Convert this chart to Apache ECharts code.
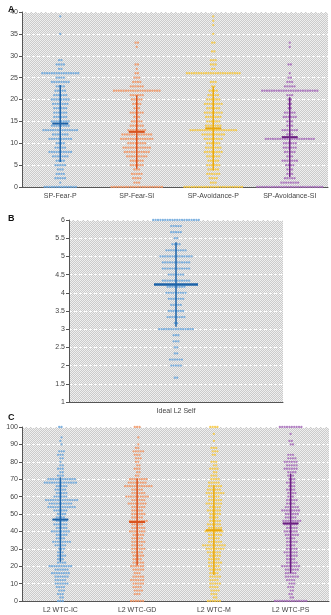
<!DOCTYPE html>
<html>
<head>
<meta charset="utf-8">
<script src="https://cdn.jsdelivr.net/npm/echarts@6/dist/echarts.min.js"></script>
<style>
  html, body { margin: 0; padding: 0; background: #fff; }
  #main { width: 331px; height: 615px; }
</style>
</head>
<body>
<div id="main"></div>
<script>
// ---- data ----
// Panel A: counts of respondents at each integer score 0..40
var aCategories = ['SP-Fear-P', 'SP-Fear-SI', 'SP-Avoidance-P', 'SP-Avoidance-SI'];
var aLevels = [];
for (var i = 0; i <= 40; i++) aLevels.push(i);
var fearPCounts   = [14,1,5,4,3,5,4,7,10,5,4,10,7,15,8,8,6,6,6,7,8,6,5,4,8,4,16,2,4,2,0,0,0,0,0,1,0,0,0,1,0];
var fearSICounts  = [22,3,4,5,3,6,6,9,11,12,8,14,13,8,6,5,3,6,3,4,5,6,20,6,4,3,2,1,2,0,0,0,1,2,0,0,0,0,0,0,0];
var avoidPCounts  = [25,3,4,6,5,6,5,6,8,7,6,8,10,20,7,6,7,8,6,8,6,5,4,2,3,0,23,2,3,3,0,2,0,2,0,1,0,1,1,1,0];
var avoidSICounts = [28,8,5,3,3,4,7,3,5,6,6,21,3,7,3,3,6,5,2,2,2,3,24,5,3,2,1,0,2,0,0,0,1,1,0,0,0,0,0,0,0];
var aMeans = [14.5, 12.6, 13.4, 11.4];
var aSds   = [8.8, 8.4, 9.6, 9.1];
var aTicks = { min: 0, max: 40, interval: 5 };

// Panel B: mean item scores in steps of 1/6 from 1 to 6
var bCategories = ['Ideal L2 Self'];
var bLevels = [];
for (var k = 0; k <= 30; k++) bLevels.push(1 + k / 6);
var idealCounts = [0,0,0,0,2,0,5,6,2,2,3,3,15,2,8,7,5,7,9,8,12,7,12,12,14,9,4,2,5,5,20];
var bMeans = [4.23];
var bSds   = [1.16];
var bTicks = { min: 1, max: 6, interval: 0.5 };

// Panel C: percentage scores, binned every 2 points 0..100
var cCategories = ['L2 WTC-IC', 'L2 WTC-GD', 'L2 WTC-M', 'L2 WTC-PS'];
var cLevels = [];
for (var p = 0; p <= 100; p += 2) cLevels.push(p);
var wtcICCounts = [3,2,3,3,4,6,5,6,8,6,10,4,3,4,3,3,5,8,4,5,8,5,6,5,4,4,6,12,10,14,6,5,5,5,14,12,3,2,3,2,1,2,3,3,0,1,1,1,0,0,2];
var wtcGDCounts = [6,0,3,4,4,5,6,5,3,5,6,5,4,5,5,6,5,6,5,5,7,6,5,8,5,6,5,6,8,6,10,6,5,12,8,8,2,2,3,2,2,3,3,5,2,1,0,1,0,0,3];
var wtcMCounts  = [6,2,3,4,4,5,4,5,4,5,5,6,5,5,6,8,10,6,5,6,8,6,6,5,4,5,6,5,7,6,5,8,6,6,5,4,3,2,4,2,3,0,2,3,3,0,1,0,1,0,4];
var wtcPSCounts = [14,2,2,2,3,3,4,6,5,6,8,5,4,5,6,5,4,5,4,6,6,5,6,8,5,6,8,6,4,5,3,4,4,3,4,3,3,4,6,5,6,4,3,0,0,2,2,0,1,0,10];
var cMeans = [46.8, 45.4, 40.7, 44.6];
var cSds   = [24.3, 25.0, 25.8, 28.6];
var cTicks = { min: 0, max: 100, interval: 10 };

// ---- styles ----
var dotColors  = ['#6aa6dc', '#f29563', '#f7c83f', '#a66bba'];
var lineColors = ['#1d63a9', '#d9531e', '#eba70a', '#6c1f82'];
var fontFam = 'Liberation Sans, Arial, sans-serif';
var pitchPx = 2.4;

// layout of the three panels (px)
var grids = [
    { left: 22, top: 12, width: 306, height: 175 },
    { left: 69, top: 220, width: 214, height: 182 },
    { left: 22, top: 427, width: 307, height: 174 }
];

// checkered gray backdrop
var pat = document.createElement('canvas');
pat.width = 2; pat.height = 2;
var pctx = pat.getContext('2d');
pctx.fillStyle = '#cbcbcb';
pctx.fillRect(0, 0, 2, 2);
pctx.fillStyle = '#efefef';
pctx.fillRect(0, 0, 1, 1);
pctx.fillRect(1, 1, 1, 1);

// lay the dots of each score level side by side around the group centre
function dotsFor(levels, counts, center, step, stagger) {
    var out = [];
    for (var i = 0; i < levels.length; i++) {
        var n = counts[i];
        var shift = (stagger && i % 2) ? step / 2 : 0;
        for (var j = 0; j < n; j++) {
            out.push([center + shift + (j - (n - 1) / 2) * step, levels[i]]);
        }
    }
    return out;
}

function meanSdRenderer(halfPx, barW, tickW) {
    return function (params, api) {
        var x = api.value(0), m = api.value(1), s = api.value(2);
        var top = api.coord([x, m + s]);
        var bot = api.coord([x, m - s]);
        var mid = api.coord([x, m]);
        var color = api.visual('color');
        return {
            type: 'group',
            children: [
                { type: 'line', shape: { x1: top[0], y1: top[1], x2: bot[0], y2: bot[1] },
                  style: { stroke: color, lineWidth: tickW } },
                { type: 'line', shape: { x1: mid[0] - halfPx, y1: mid[1], x2: mid[0] + halfPx, y2: mid[1] },
                  style: { stroke: color, lineWidth: barW } }
            ]
        };
    };
}

var xAxes = [], yAxes = [], series = [];

function addPanel(gi, cats, ticks, levels, countSets, means, sds, halfPx, barW, stagger) {
    var nCat = cats.length;
    var step = pitchPx * nCat / grids[gi].width;
    xAxes.push({
        gridIndex: gi, type: 'category', data: cats, position: 'bottom',
        axisLine: { lineStyle: { color: '#555', width: 1 } },
        axisTick: { alignWithLabel: true, length: 3, lineStyle: { color: '#555' } },
        axisLabel: { fontSize: 7, color: '#444', fontFamily: fontFam, margin: 6 },
        splitLine: { show: false }
    });
    var valueX = xAxes.length;
    xAxes.push({ gridIndex: gi, type: 'value', min: 0, max: nCat, show: false });
    yAxes.push({
        gridIndex: gi, type: 'value', min: ticks.min, max: ticks.max, interval: ticks.interval,
        axisLine: { show: true, lineStyle: { color: '#555', width: 1 } },
        axisTick: { show: true, length: 3, lineStyle: { color: '#555' } },
        axisLabel: { fontSize: 7, color: '#444', fontFamily: fontFam, margin: 4 },
        splitLine: { show: true, lineStyle: { color: '#ffffff', width: 1, type: [3, 2] } }
    });
    var yi = yAxes.length - 1;
    for (var c = 0; c < nCat; c++) {
        series.push({
            type: 'scatter', xAxisIndex: valueX, yAxisIndex: yi,
            symbol: 'circle', symbolSize: 2.3, clip: false, silent: true,
            itemStyle: { color: dotColors[c], opacity: 0.85 },
            data: dotsFor(levels, countSets[c], c + 0.5, step, stagger),
            z: 2
        });
        series.push({
            type: 'custom', xAxisIndex: valueX, yAxisIndex: yi,
            renderItem: meanSdRenderer(halfPx, barW, 1.5),
            itemStyle: { color: lineColors[c] },
            data: [[c + 0.5, means[c], sds[c]]],
            silent: true, z: 5
        });
    }
}

addPanel(0, aCategories, aTicks, aLevels,
    [fearPCounts, fearSICounts, avoidPCounts, avoidSICounts], aMeans, aSds, 8, 2, false);
addPanel(1, bCategories, bTicks, bLevels, [idealCounts], bMeans, bSds, 22, 2.5, false);
addPanel(2, cCategories, cTicks, cLevels,
    [wtcICCounts, wtcGDCounts, wtcMCounts, wtcPSCounts], cMeans, cSds, 8, 2, true);

var chart = echarts.init(document.getElementById('main'));
chart.setOption({
    animation: false,
    backgroundColor: '#fff',
    title: [
        { text: 'A', left: 3, top: 0, textStyle: { fontSize: 9, fontWeight: 'bold', color: '#111', fontFamily: fontFam } },
        { text: 'B', left: 3, top: 209, textStyle: { fontSize: 9, fontWeight: 'bold', color: '#111', fontFamily: fontFam } },
        { text: 'C', left: 3, top: 408, textStyle: { fontSize: 9, fontWeight: 'bold', color: '#111', fontFamily: fontFam } }
    ],
    grid: grids.map(function (g) {
        return {
            left: g.left, top: g.top, width: g.width, height: g.height,
            show: true, borderWidth: 0,
            backgroundColor: { image: pat, repeat: 'repeat' }
        };
    }),
    xAxis: xAxes,
    yAxis: yAxes,
    series: series
});
</script>
</body>
</html>
